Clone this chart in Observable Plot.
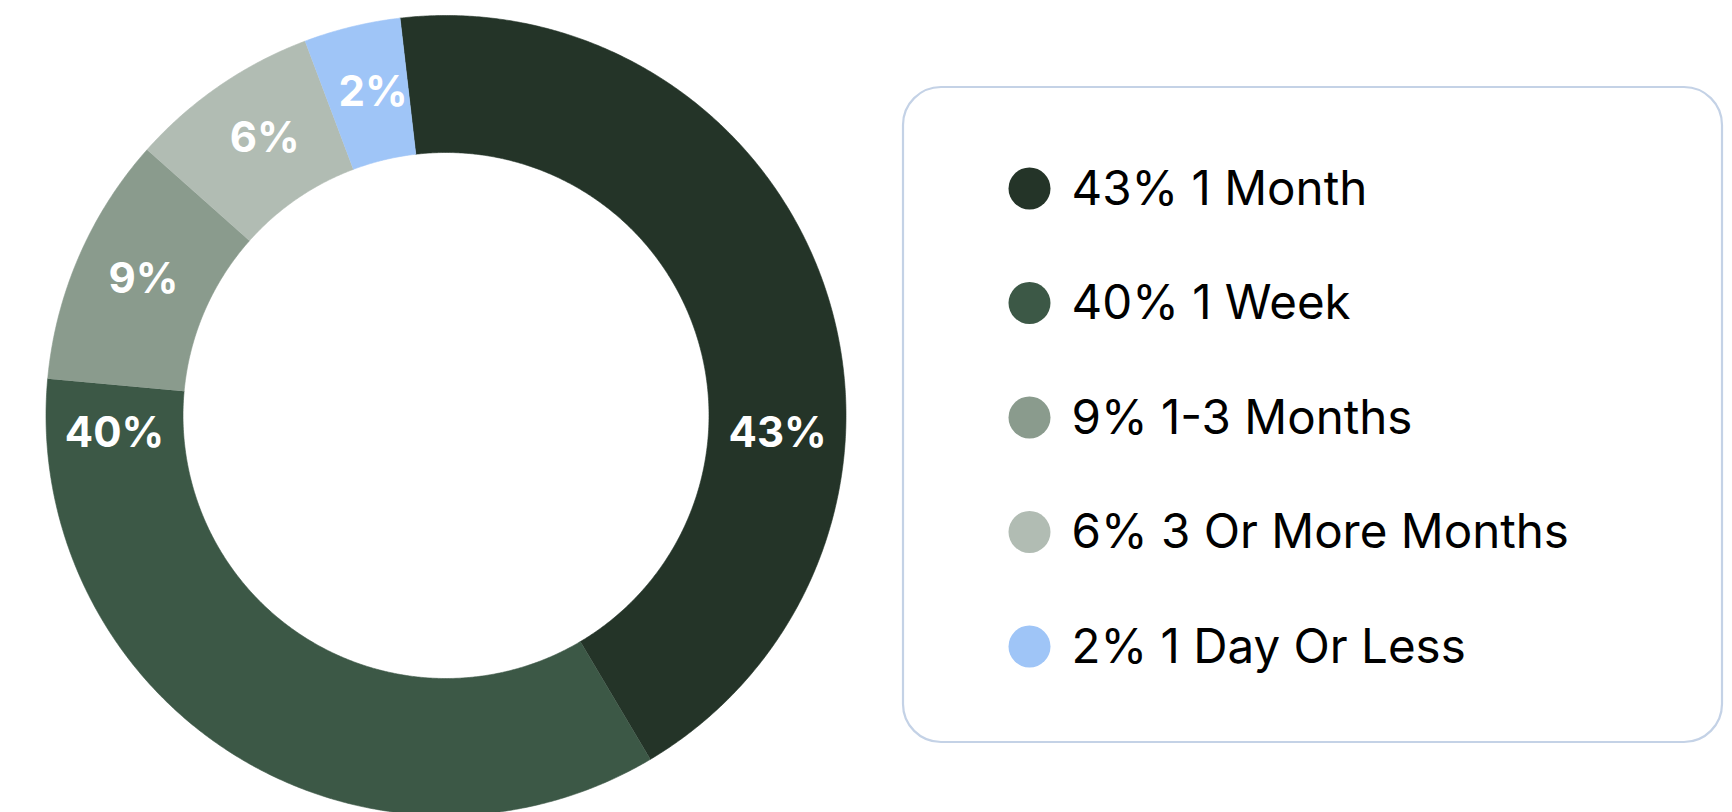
<!DOCTYPE html>
<html><head><meta charset="utf-8">
<script src="https://cdn.jsdelivr.net/npm/d3@7"></script>
<script src="https://cdn.jsdelivr.net/npm/@observablehq/plot@0.6"></script>
<style>
  html,body{margin:0;padding:0;background:#fff;overflow:hidden}
  svg{display:block}
</style>
</head><body><div id="chart"></div>
<script>
// ---- data ----
const categories = ["1 Month", "1 Week", "1-3 Months", "3 Or More Months", "1 Day Or Less"];
const percentLabels = [43, 40, 9, 6, 2];          // printed percentages
const arcShares = [43.3, 35.0, 10.1, 7.7, 3.9];   // slice sizes as drawn in the picture
const colors = ["#243428", "#3c5846", "#8a9b8d", "#b1bcb3", "#9fc5f7"];

// ---- layout ----
const W = 1732, H = 812;
const cx = 445.5, cy = 415, rOuter = 400, rInner = 263;
const startAngle = -6.6;                             // degrees, clockwise from 12 o'clock
const labelAngles = [92.9, 267.1, -65.7, -33.1, -12.7];
const labelRadius = 332;
const box = {x1: 903, x2: 1722, y1: 87, y2: 742, r: 38};
const legendX = 1029, legendY0 = 188, legendStep = 114.5, legendTextX = 1071;

const rad = d => d * Math.PI / 180;
const px = (r, a) => cx + r * Math.sin(rad(a));
const py = (r, a) => cy - r * Math.cos(rad(a));

// build slice polygons from the shares
const total = d3.sum(arcShares);
const polys = [];
let a0 = startAngle;
categories.forEach((c, i) => {
  const a1 = a0 + arcShares[i] / total * 360;
  const n = Math.max(8, Math.ceil((a1 - a0) * 3));
  for (let k = 0; k <= n; k++) {
    const a = a0 + (a1 - a0) * k / n;
    polys.push({cat: c, x: px(rOuter, a), y: py(rOuter, a)});
  }
  for (let k = n; k >= 0; k--) {
    const a = a0 + (a1 - a0) * k / n;
    polys.push({cat: c, x: px(rInner, a), y: py(rInner, a)});
  }
  a0 = a1;
});

const sliceLabels = categories.map((c, i) => ({
  cat: c, text: percentLabels[i] + "%",
  x: px(labelRadius, labelAngles[i]), y: py(labelRadius, labelAngles[i])
}));

const legend = categories.map((c, i) => ({
  cat: c, text: `${percentLabels[i]}% ${c}`, y: legendY0 + i * legendStep
}));

const chart = Plot.plot({
  width: W, height: H,
  margin: 0,
  x: {domain: [0, W], range: [0, W], axis: null},
  y: {domain: [0, H], range: [0, H], axis: null},
  color: {domain: categories, range: colors},
  style: {background: "#fff", overflow: "hidden"},
  marks: [
    Plot.line(polys, {x: "x", y: "y", z: "cat", fill: "cat", stroke: "cat", strokeWidth: 0.6, curve: "linear"}),
    Plot.text(sliceLabels, {x: "x", y: "y", text: "text", fill: "#fff", fontSize: 42, fontWeight: 700,
      fontFamily: "Inter, 'Open Sans', sans-serif", textAnchor: "middle", lineAnchor: "middle", dy: 1}),
    Plot.rect([box], {x1: "x1", x2: "x2", y1: "y1", y2: "y2", rx: box.r, fill: "#fff", stroke: "#c4d2e6", strokeWidth: 2.2}),
    Plot.dot(legend, {x: () => legendX, y: "y", r: 21, fill: "cat", stroke: null}),
    Plot.text(legend, {x: () => legendTextX, y: "y", text: "text", fill: "#000", fontSize: 47.5,
      fontFamily: "Inter, 'Open Sans', sans-serif", textAnchor: "start", lineAnchor: "middle", dy: 1})
  ]
});
document.getElementById("chart").appendChild(chart);
</script>
</body></html>
